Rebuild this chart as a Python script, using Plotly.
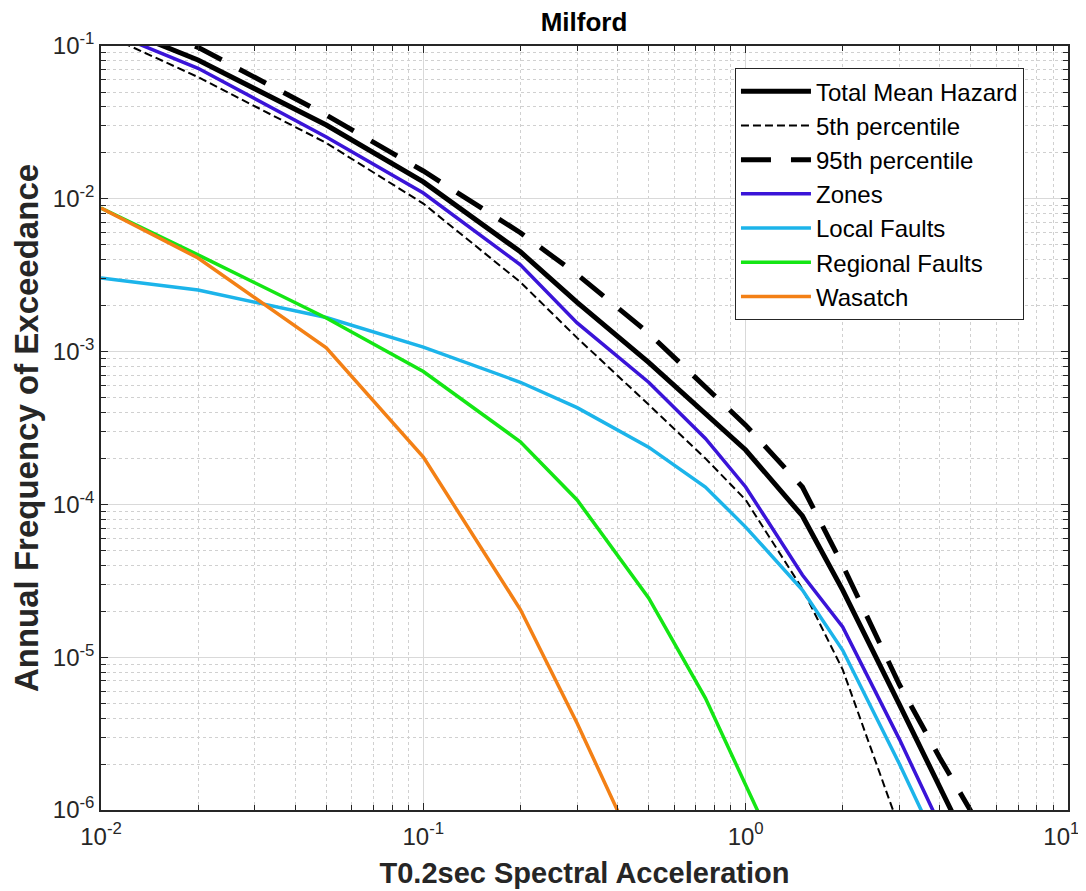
import plotly.graph_objects as go

# Spectral acceleration (g)
sa = [0.01, 0.02, 0.05, 0.1, 0.2, 0.3, 0.5, 0.75, 1.0, 1.5, 2.0, 3.0, 4.0, 5.0]

total_mean = [0.146, 0.081, 0.0304, 0.0129, 4.5e-3, 2.1e-3, 8.5e-4, 3.9e-4, 2.27e-4, 8.4e-5, 2.75e-5, 4.9e-6, 1.4e-6, 5.4e-7]
pct5 = [0.122, 0.0626, 0.0232, 9.3e-3, 2.85e-3, 1.23e-3, 4.5e-4, 2.0e-4, 1.07e-4, 2.8e-5, 8.3e-6, 7.6e-7, None, None]
pct95 = [0.167, 0.098, 0.0353, 0.0152, 6.0e-3, 3.2e-3, 1.32e-3, 5.9e-4, 3.3e-4, 1.3e-4, 4.0e-5, 6.6e-6, 2.2e-6, 9.8e-7]
zones = [0.13, 0.0715, 0.0254, 0.0109, 3.7e-3, 1.54e-3, 6.3e-4, 2.7e-4, 1.3e-4, 3.45e-5, 1.58e-5, 2.9e-6, 8.0e-7, None]
local_faults = [3.03e-3, 2.53e-3, 1.67e-3, 1.07e-3, 6.3e-4, 4.3e-4, 2.37e-4, 1.3e-4, 7.1e-5, 2.75e-5, 1.11e-5, 2.0e-6, 5.5e-7, None]
regional_faults = [8.7e-3, 4.3e-3, 1.66e-3, 7.4e-4, 2.57e-4, 1.07e-4, 2.44e-5, 5.4e-6, 1.46e-6, 2.3e-7, None, None, None, None]
wasatch = [8.7e-3, 4.1e-3, 1.06e-3, 2.04e-4, 2.05e-5, 3.7e-6, 3.6e-7, None, None, None, None, None, None, None]

x_tickvals = [0.01, 0.1, 1, 10]
x_ticktext = ["10<sup>-2</sup>", "10<sup>-1</sup>", "10<sup>0</sup>", "10<sup>1</sup>\u00a0\u00a0"]
y_tickvals = [1e-6, 1e-5, 1e-4, 1e-3, 1e-2, 1e-1]
y_ticktext = ["10<sup>-6</sup>", "10<sup>-5</sup>", "10<sup>-4</sup>", "10<sup>-3</sup>", "10<sup>-2</sup>", "10<sup>-1</sup>"]

x_minor = [m * 10 ** e for e in (-2, -1, 0) for m in range(2, 10)]
y_minor = [m * 10 ** e for e in (-6, -5, -4, -3, -2) for m in range(2, 10)]

FONT = "Liberation Sans, Arial, Helvetica, sans-serif"
TXT = "#262626"

series = [
    ("Total Mean Hazard", total_mean, dict(color="black", width=5)),
    ("5th percentile", pct5, dict(color="black", width=2, dash="8px,4px")),
    ("95th percentile", pct95, dict(color="black", width=5, dash="30px,20px")),
    ("Zones", zones, dict(color="#3a14d8", width=3.5)),
    ("Local Faults", local_faults, dict(color="#1cb4ea", width=3.5)),
    ("Regional Faults", regional_faults, dict(color="#14e614", width=3.5)),
    ("Wasatch", wasatch, dict(color="#f38015", width=3.5)),
]

fig = go.Figure()
for name, vals, line in series:
    fig.add_trace(go.Scatter(x=sa, y=vals, mode="lines", name=name, line=line,
                             connectgaps=False))

axis_common = dict(
    type="log",
    automargin=False,
    showline=True, linecolor=TXT, linewidth=1.5, mirror="ticks",
    ticks="inside", ticklen=7, tickcolor=TXT, tickwidth=1,
    showgrid=True, gridcolor="#d9d9d9", gridwidth=1,
    zeroline=False,
    tickmode="array",
    ticklabeloverflow="allow",
    tickfont=dict(family=FONT, size=24, color=TXT),
)

fig.update_xaxes(
    **axis_common,
    range=[-2, 1],
    tickvals=x_tickvals, ticktext=x_ticktext,
    ticklabelstandoff=4,
    minor=dict(tickmode="array", tickvals=x_minor, ticks="inside", ticklen=5,
               tickcolor=TXT, showgrid=True, gridcolor="#d0d0d0", griddash="dot", gridwidth=1),
    title=dict(text="<b>T0.2sec Spectral Acceleration</b>", font=dict(family=FONT, size=29, color=TXT), standoff=14),
)
fig.update_yaxes(
    **axis_common,
    range=[-6, -1],
    tickvals=y_tickvals, ticktext=y_ticktext,
    minor=dict(tickmode="array", tickvals=y_minor, ticks="inside", ticklen=5,
               tickcolor=TXT, showgrid=True, gridcolor="#d0d0d0", griddash="dot", gridwidth=1),
    title=dict(text="<b>Annual Frequency of Exceedance</b>", font=dict(family=FONT, size=33, color=TXT), standoff=8),
)

fig.update_layout(
    width=1078, height=883,
    margin=dict(l=93, r=18, t=38, b=81, autoexpand=False),
    paper_bgcolor="white", plot_bgcolor="white",
    font=dict(family=FONT, color=TXT),
    title=dict(text="<b>Milford</b>", x=576 / 1078, xanchor="center", y=1 - 14 / 883, yanchor="middle",
               xref="container", yref="container", font=dict(family=FONT, size=26, color="black")),
    legend=dict(x=0.6556, y=0.971, xanchor="left", yanchor="top",
                bgcolor="white", bordercolor=TXT, borderwidth=1,
                font=dict(family=FONT, size=24, color="black"),
                itemwidth=70, tracegroupgap=0),
    showlegend=True,
)

fig.write_html("out.html")
